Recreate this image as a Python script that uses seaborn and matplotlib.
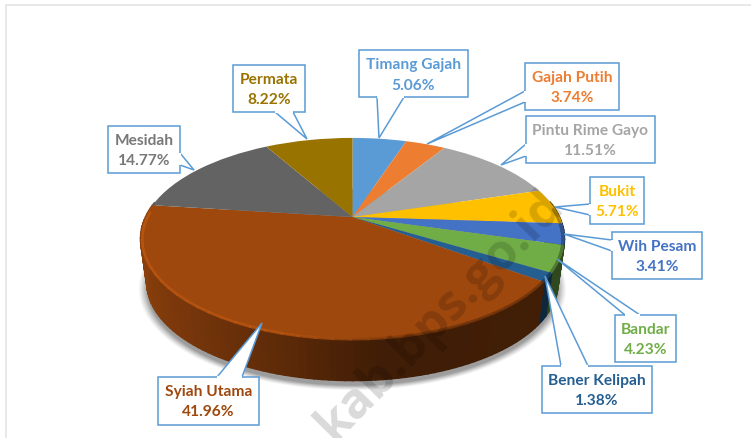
import numpy as np
import matplotlib
matplotlib.use('Agg')
import matplotlib.pyplot as plt
import matplotlib.transforms as mtransforms
from matplotlib.patches import Polygon
import seaborn as sns

# Data
districts = ['Timang Gajah', 'Gajah Putih', 'Pintu Rime Gayo', 'Bukit', 'Wih Pesam',
             'Bandar', 'Bener Kelipah', 'Syiah Utama', 'Mesidah', 'Permata']
shares = [5.06, 3.74, 11.51, 5.71, 3.41, 4.23, 1.38, 41.96, 14.77, 8.22]
slice_colors = ['#5B9BD5', '#ED7D31', '#A5A5A5', '#FFC000', '#4472C4',
                '#70AD47', '#255E91', '#9E480E', '#636363', '#997300']
label_colors = ['#5B9BD5', '#ED7D31', '#A5A5A5', '#FFC000', '#4472C4',
                '#70AD47', '#255E91', '#9E480E', '#787878', '#997300']

# Callout layout in picture pixels: box (x0, y0, x1, y1), then pointer (base, tip, base)
callouts = {
    'Timang Gajah': ((359, 51, 468, 98), ((404, 98), (379, 139), (377, 98))),
    'Gajah Putih': ((525, 64, 619, 111), ((525, 92), (427, 145), (525, 103))),
    'Pintu Rime Gayo': ((526, 117, 655, 164), ((526, 145), (501, 166), (526, 157))),
    'Bukit': ((590, 178, 644, 225), ((590, 205), (555, 208), (590, 216))),
    'Wih Pesam': ((612, 233, 702, 280), ((612, 241), (564, 235), (612, 252))),
    'Bandar': ((615, 316, 676, 363), ((640, 316), (557, 260), (625, 316))),
    'Bener Kelipah': ((542, 367, 652, 414), ((588, 367), (545, 277), (561, 367))),
    'Syiah Utama': ((158, 378, 259, 426), ((242, 378), (262, 324), (217, 378))),
    'Mesidah': ((108, 127, 180, 174), ((180, 154), (194, 171), (180, 166))),
    'Permata': ((233, 66, 305, 113), ((275, 113), (307, 140), (293, 113))),
}

WIDTH, HEIGHT = 751, 439
CX, CY = 352.5, 218
RX, RY, TILT = 207, 96, 0.214


def to_pixels(u, v, scale=1.0, drop=0.0):
    # perspective view of a flat disc
    s = scale / (1 + TILT * v)
    return CX + RX * u * s, CY + drop - RY * v * s


class PieTilt(mtransforms.Transform):
    input_dims = 2
    output_dims = 2

    def transform_non_affine(self, values):
        x, y = to_pixels(values[:, 0], values[:, 1])
        return np.column_stack([x, y])


def shade(color, factor):
    return tuple(np.clip(np.array(matplotlib.colors.to_rgb(color)) * factor, 0, 1))


sns.set_theme(style='white')
plt.rcParams['font.family'] = ['Lato', 'DejaVu Sans']

fig = plt.figure(figsize=(WIDTH / 100, HEIGHT / 100), dpi=100)
ax = fig.add_axes([0, 0, 1, 1])

wedges, _ = ax.pie(shares, colors=slice_colors, startangle=90, counterclock=False,
                   normalize=True, radius=1.0, center=(0, 0))
ax.set_aspect('auto')
ax.set_xlim(0, WIDTH)
ax.set_ylim(HEIGHT, 0)
ax.axis('off')

# Frame of the original picture
ax.plot([5.5, 5.5, 751], [439, 5.5, 5.5], color='#e4e4e4', lw=1.2, zorder=0)

# Soft shadow under the disc
t = np.linspace(0, 2 * np.pi, 200)
for grow, alpha in zip(np.linspace(8, 0, 9), np.linspace(0.03, 0.07, 9)):
    sx, sy = to_pixels(np.sin(t), np.cos(t), 0.97 + grow / 210, 50)
    ax.fill(sx, sy, color='black', alpha=alpha, lw=0, zorder=1)

# Side wall, drawn as shaded strips along each front slice, each one overlapping the next
edges = np.cumsum([0] + shares) / np.sum(shares) * 2 * np.pi
for i, color in enumerate(slice_colors):
    a0, a1 = edges[i], edges[i + 1]
    steps = max(2, int((a1 - a0) / 0.03))
    angles = np.linspace(a0, a1, steps + 1)
    for b0, b1 in zip(angles[:-1], angles[1:]):
        mid = (b0 + b1) / 2
        if np.cos(mid) > 0.15:
            continue
        # wall is darkest on the right, lighter to the left
        factor = np.interp(np.sin(mid), [-1, -0.3, 0.1, 1], [0.88, 0.6, 0.4, 0.42])
        xt, yt = to_pixels(np.sin([b0, b1]), np.cos([b0, b1]))
        xb, yb = to_pixels(np.sin([b1, b0]), np.cos([b1, b0]), 0.97, 45)
        ax.fill(np.r_[xt, xb], np.r_[yt, yb], fc=shade(color, factor), ec=shade(color, factor),
                lw=1.2, zorder=2)

# Top surface: the pie wedges bent into perspective
warp = PieTilt() + ax.transData
for wedge in wedges:
    wedge.set_transform(warp)
    wedge.set_zorder(3)
    wedge.set_clip_on(False)
    wedge.set_linewidth(0)

# Bevel along the front rim: bright on the left, fading dark on the right
for i, color in enumerate(slice_colors):
    arc = np.linspace(edges[i], edges[i + 1], 40)
    arc = arc[np.cos(arc) < 0.1]
    for b0, b1 in zip(arc[:-1], arc[1:]):
        factor = np.interp(np.sin(b0), [-1, -0.25, 0.35, 1], [1.18, 1.18, 0.72, 0.7])
        hx, hy = to_pixels(np.sin([b0, b1]), np.cos([b0, b1]), 0.992, 1)
        ax.plot(hx, hy, color=shade(color, factor), lw=2, alpha=0.8, zorder=4,
                solid_capstyle='round')

# Watermark
ax.text(440, 316, 'kab.bps.go.id', fontsize=36, fontweight='bold', color='black', alpha=0.15,
        rotation=45.5, rotation_mode='anchor', ha='center', va='center', family='Open Sans', zorder=5)

# Labels with callout boxes
for name, share, color in zip(districts, shares, label_colors):
    (x0, y0, x1, y1), pointer = callouts[name]
    ax.add_patch(Polygon([(x0, y0), (x1, y0), (x1, y1), (x0, y1)], closed=True,
                         fc='white', ec='#5B9BD5', lw=1.1, zorder=6))
    ax.add_patch(Polygon(pointer, closed=True, fc='white', ec='#5B9BD5', lw=1.1, zorder=6))
    ax.plot([pointer[0][0], pointer[2][0]], [pointer[0][1], pointer[2][1]],
            color='white', lw=1.6, zorder=7, solid_capstyle='butt')
    ax.text((x0 + x1) / 2, y0 + 14, name, color=color, fontsize=11.2, fontweight='bold',
            ha='center', va='center', zorder=8)
    ax.text((x0 + x1) / 2, y0 + 34.5, f'{share:.2f}%', color=color, fontsize=11.2, fontweight='bold',
            ha='center', va='center', zorder=8)

fig.savefig('out.png', dpi=100, facecolor='white')
